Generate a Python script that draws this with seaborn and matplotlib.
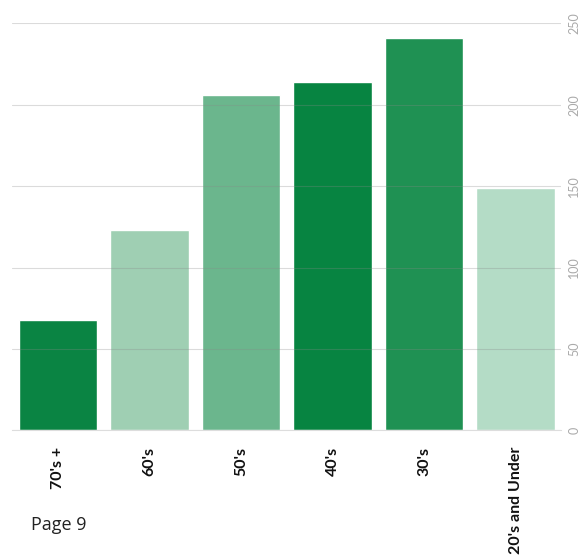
import matplotlib
matplotlib.use("Agg")
import matplotlib.pyplot as plt
import seaborn as sns
import pandas as pd

# ------------------ Data ------------------
age_groups = ["70's +", "60's", "50's", "40's", "30's", "20's and Under"]
counts = [68, 123, 206, 214, 241, 149]
bar_colors = ["#0a8443", "#9fcfb3", "#6bb68d", "#078441", "#1f9153", "#b4dcc6"]
y_ticks = [0, 50, 100, 150, 200, 250]

df = pd.DataFrame({"age": age_groups, "count": counts})

# ------------------ Plot ------------------
sns.set_style("white")
plt.rcParams['font.family'] = ['Lato', 'DejaVu Sans']

fig = plt.figure(figsize=(5.83, 5.58), dpi=100)
ax = fig.add_axes([0.021, 0.229, 0.942, 0.729])

sns.barplot(data=df, x="age", y="count", hue="age", palette=bar_colors,
            legend=False, width=0.86, saturation=1, ax=ax, zorder=2)

ax.set_ylim(0, 250)
ax.set_xlim(-0.5, 5.5)
ax.set_yticks(y_ticks)
ax.yaxis.tick_right()
ax.set_yticklabels([str(t) for t in y_ticks], rotation=90, va="center",
                   color="#aaaaaa", fontsize=9)
ax.tick_params(axis="y", length=0, pad=5)
ax.tick_params(axis="x", length=0, pad=12)
ax.set_xticks(range(len(age_groups)))
ax.set_xticklabels(age_groups, rotation=90, fontweight="bold", fontsize=11.5,
                   color="#111111", va="top")

ax.grid(axis="y", color="#888888", alpha=0.3, linewidth=0.8, zorder=3)
ax.set_axisbelow(False)
for s in ["top", "left", "right"]:
    ax.spines[s].set_visible(False)
ax.spines["bottom"].set_color("#dddddd")
ax.set_xlabel("")
ax.set_ylabel("")

fig.text(0.053, 0.05, "Page 9", fontsize=13, color="#222222",
         fontfamily=["Open Sans", "DejaVu Sans"])

plt.savefig("out.png", dpi=100)
